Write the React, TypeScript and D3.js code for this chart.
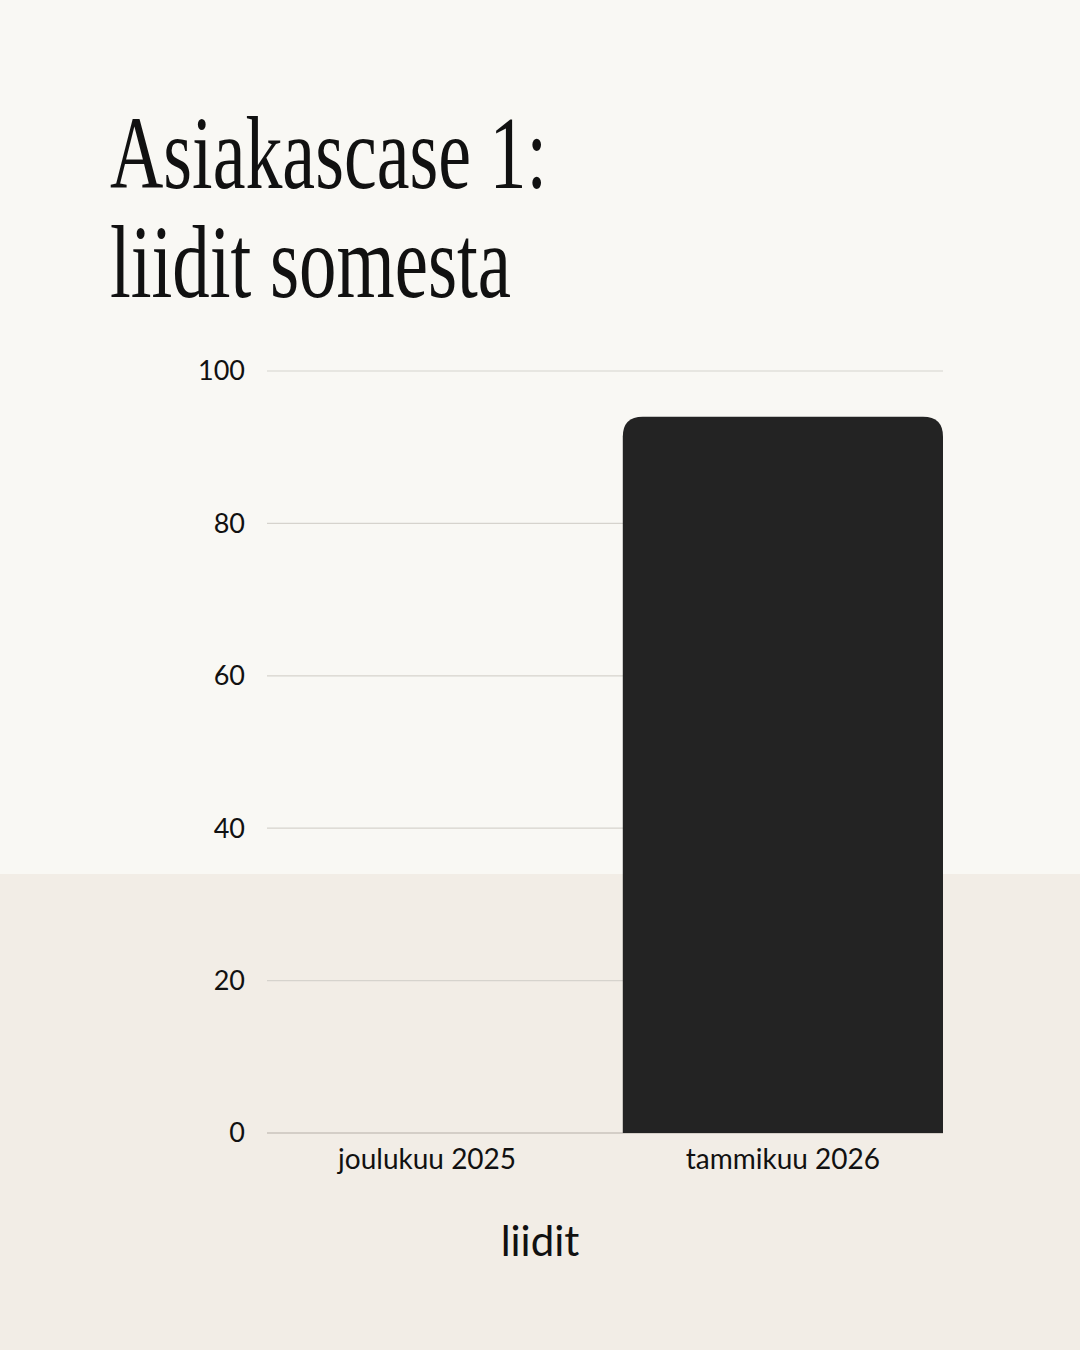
import React, { useEffect, useRef } from 'react';
import * as d3 from 'd3';

const titleLines = ['Asiakascase 1:', 'liidit somesta'];
const months = ['joulukuu 2025', 'tammikuu 2026'];
const leads = [0, 94];
const yTicks = [0, 20, 40, 60, 80, 100];
const axisTitle = 'liidit';

const W = 1080;
const H = 1350;

const App: React.FC = () => {
  const svgRef = useRef<SVGSVGElement>(null);

  useEffect(() => {
    document.body.style.margin = '0';
    if (!svgRef.current) return;

    const svg = d3.select(svgRef.current);
    svg.selectAll('*').remove();

    const margin = { top: 371, right: 137, bottom: 217, left: 267 };
    const innerW = W - margin.left - margin.right;
    const innerH = H - margin.top - margin.bottom;

    // two-tone background
    svg.append('rect').attr('width', W).attr('height', H).attr('fill', '#f9f8f4');
    svg.append('rect').attr('y', 874).attr('width', W).attr('height', H - 874).attr('fill', '#f2ede6');

    // title, squeezed to mimic the condensed display serif
    const titleWidths = [437, 401];
    svg.selectAll('text.title')
      .data(titleLines)
      .enter()
      .append('text')
      .attr('class', 'title')
      .attr('x', 110)
      .attr('y', (_, i) => 188 + i * 109)
      .attr('font-family', '"Liberation Serif", "DejaVu Serif", serif')
      .attr('font-size', 104)
      .attr('fill', '#111')
      .attr('textLength', (_, i) => titleWidths[i])
      .attr('lengthAdjust', 'spacingAndGlyphs')
      .text(d => d);

    const x = d3.scaleBand<string>()
      .domain(months)
      .range([0, innerW])
      .paddingInner(0.1)
      .paddingOuter(0);

    const y = d3.scaleLinear().domain([0, 100]).range([innerH, 0]);

    const g = svg.append('g').attr('transform', `translate(${margin.left},${margin.top})`);

    // gridlines
    g.selectAll('line.grid')
      .data(yTicks)
      .enter()
      .append('line')
      .attr('x1', 0)
      .attr('x2', innerW)
      .attr('y1', d => y(d))
      .attr('y2', d => y(d))
      .attr('stroke', d => (d === 0 ? '#b5b0a8' : '#d6d3cd'))
      .attr('stroke-width', 1.2);

    g.selectAll('text.ytick')
      .data(yTicks)
      .enter()
      .append('text')
      .attr('x', -22)
      .attr('y', d => y(d))
      .attr('dy', '0.35em')
      .attr('text-anchor', 'end')
      .attr('font-family', 'Lato, "Noto Sans", sans-serif')
      .attr('font-size', 27)
      .attr('fill', '#111')
      .text(d => d);

    // bars, rounded at the top only
    const r = 20;
    g.selectAll('path.bar')
      .data(months.map((m, i) => ({ m, v: leads[i] })))
      .enter()
      .append('path')
      .attr('fill', '#232323')
      .attr('d', d => {
        const x0 = x(d.m) || 0;
        const x1 = x0 + x.bandwidth();
        const y0 = y(0);
        const y1 = y(d.v);
        if (y0 - y1 <= 0) return '';
        const rr = Math.min(r, (y0 - y1), x.bandwidth() / 2);
        return `M${x0},${y0}V${y1 + rr}Q${x0},${y1} ${x0 + rr},${y1}H${x1 - rr}Q${x1},${y1} ${x1},${y1 + rr}V${y0}Z`;
      });

    // category labels
    g.selectAll('text.xtick')
      .data(months)
      .enter()
      .append('text')
      .attr('x', d => (x(d) || 0) + x.bandwidth() / 2)
      .attr('y', innerH + 36)
      .attr('text-anchor', 'middle')
      .attr('font-family', 'Lato, "Noto Sans", sans-serif')
      .attr('font-size', 28)
      .attr('fill', '#111')
      .text(d => d);

    svg.append('text')
      .attr('x', W / 2)
      .attr('y', 1256)
      .attr('text-anchor', 'middle')
      .attr('font-family', 'Lato, "Noto Sans", sans-serif')
      .attr('font-size', 42)
      .attr('fill', '#111')
      .text(axisTitle);
  }, []);

  return <svg ref={svgRef} width={W} height={H} style={{ display: 'block' }} />;
};

export default App;
